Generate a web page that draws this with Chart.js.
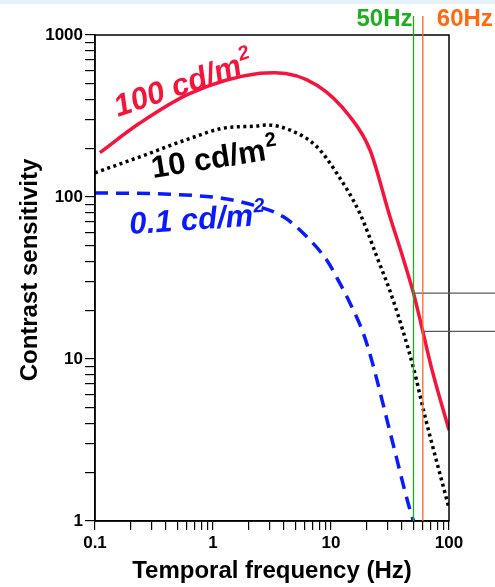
<!DOCTYPE html>
<html lang="en">
<head>
    <meta charset="UTF-8">
    <title>Contrast sensitivity</title>
    <script src="https://cdn.jsdelivr.net/npm/chart.js"></script>
    <style>
        body {
            margin: 0;
            background: #ffffff;
            font-family: 'Liberation Sans', Arial, sans-serif;
        }
        canvas {
            display: block;
        }
    </style>
</head>
<body>
    <canvas id="csfChart" width="495" height="587"></canvas>

    <script>
        // frequency (Hz) / sensitivity, one pair of arrays per curve
        const redFreq  = [0.11, 0.24, 0.64, 2.5, 3.35, 7.6, 14.5, 21.4, 31.6, 40, 50, 60, 72, 100];
        const redSens  = [188, 286, 436, 580, 585, 490, 313, 195, 75.5, 44, 25.5, 14.8, 8.5, 3.65];

        const blackFreq = [0.1, 0.24, 0.64, 1.22, 2.34, 2.85, 4.5, 7.6, 11.2, 17.6, 24.4, 33.7, 50, 62.7, 100];
        const blackSens = [141, 177, 230, 266, 274, 278, 259, 204, 140, 79, 43, 23, 8.8, 4.4, 1.2];

        const blueFreq = [0.1, 0.43, 1.22, 2.2, 3.95, 5.82, 9.19, 11.9, 14.5, 18.8, 22.1, 32.1, 46.7, 50];
        const blueSens = [106, 104, 98, 89, 75.5, 59.7, 40.8, 29.3, 22.1, 14.4, 9.86, 3.4, 1.17, 1.0];

        const seriesNames = ['100 cd/m', '10 cd/m', '0.1 cd/m'];

        // mains frequency markers and the sensitivity of the 100 cd/m2 curve there
        const markFreq  = [50, 60];
        const markSens  = [25.5, 14.8];
        const markNames = ['50Hz', '60Hz'];

        const xTickLabels = ['0.1', '1', '10', '100'];
        const yTickLabels = ['1', '10', '100', '1000'];

        const xTitle = 'Temporal frequency (Hz)';
        const yTitle = 'Contrast sensitivity';

        const RED = '#f5143c';
        const BLUE = '#0a1aff';
        const GREEN = '#1fae1f';
        const ORANGE = '#ff6a10';
        const FONT = '"Liberation Sans", Arial, sans-serif';

        function toPoints(xs, ys) {
            return xs.map((x, i) => ({ x: x, y: ys[i] }));
        }

        // 1..9 per decade, labels only on the powers of ten
        function logTicks(labels) {
            const majors = labels.map(Number);
            const out = [];
            for (let d = 0; d < majors.length - 1; d++) {
                for (let m = 1; m <= 9; m++) {
                    out.push({ value: +(majors[d] * m).toPrecision(6) });
                }
            }
            out.push({ value: majors[majors.length - 1] });
            return out;
        }

        function tickLabel(labels) {
            return function (value) {
                const i = labels.map(Number).indexOf(+value);
                return i >= 0 ? labels[i] : '';
            };
        }

        const extras = {
            id: 'extras',
            beforeDraw(chart) {
                const ctx = chart.ctx;
                ctx.save();
                ctx.fillStyle = '#e6f2fa';
                ctx.fillRect(0, 0, chart.width, 4);
                ctx.restore();
            },
            afterDraw(chart) {
                const ctx = chart.ctx;
                const area = chart.chartArea;
                const xs = chart.scales.x;
                const ys = chart.scales.y;
                ctx.save();

                // frame
                ctx.strokeStyle = '#000';
                ctx.lineWidth = 1.5;
                ctx.strokeRect(area.left, area.top, area.right - area.left, area.bottom - area.top);

                // 50 / 60 Hz markers
                const colors = [GREEN, ORANGE];
                markFreq.forEach((f, i) => {
                    const px = xs.getPixelForValue(f);
                    const py = ys.getPixelForValue(markSens[i]);
                    ctx.strokeStyle = '#5a5a5a';
                    ctx.lineWidth = 1.3;
                    ctx.beginPath();
                    ctx.moveTo(px, py);
                    ctx.lineTo(chart.width, py);
                    ctx.stroke();

                    ctx.strokeStyle = colors[i];
                    ctx.lineWidth = 1.3;
                    ctx.beginPath();
                    ctx.moveTo(px, area.top - 19);
                    ctx.lineTo(px, area.bottom);
                    ctx.stroke();

                    ctx.fillStyle = colors[i];
                    ctx.font = 'bold 24px ' + FONT;
                    ctx.textBaseline = 'alphabetic';
                    if (i === 0) {
                        ctx.textAlign = 'right';
                        ctx.fillText(markNames[i], px - 1, 26);
                    } else {
                        ctx.textAlign = 'left';
                        ctx.fillText(markNames[i], px + 14, 26);
                    }
                });

                // curve labels
                function curveLabel(text, f, s, angle, size, color, italic) {
                    const x = xs.getPixelForValue(f);
                    const y = ys.getPixelForValue(s);
                    const style = (italic ? 'italic ' : '') + 'bold ';
                    ctx.save();
                    ctx.translate(x, y);
                    ctx.rotate(angle * Math.PI / 180);
                    ctx.fillStyle = color;
                    ctx.textAlign = 'left';
                    ctx.textBaseline = 'alphabetic';
                    ctx.font = style + size + 'px ' + FONT;
                    ctx.fillText(text, 0, 0);
                    const w = ctx.measureText(text).width;
                    ctx.font = style + Math.round(size * 0.66) + 'px ' + FONT;
                    ctx.fillText('2', w + 1, -size * 0.42);
                    ctx.restore();
                }
                curveLabel(seriesNames[0], 0.157, 312, -19, 31, RED, true);
                curveLabel(seriesNames[1], 0.31, 131, -9, 31, '#000', false);
                curveLabel(seriesNames[2], 0.198, 59, -4, 31, BLUE, true);

                // y title
                ctx.save();
                ctx.translate(30, 270);
                ctx.rotate(-Math.PI / 2);
                ctx.fillStyle = '#000';
                ctx.font = 'bold 24px ' + FONT;
                ctx.textAlign = 'center';
                ctx.textBaseline = 'middle';
                ctx.fillText(yTitle, 0, 0);
                ctx.restore();

                ctx.restore();
            }
        };

        new Chart(document.getElementById('csfChart'), {
            type: 'line',
            data: {
                datasets: [
                    {
                        label: seriesNames[0],
                        data: toPoints(redFreq, redSens),
                        borderColor: RED,
                        borderWidth: 3.5,
                        pointRadius: 0,
                        cubicInterpolationMode: 'monotone',
                        fill: false
                    },
                    {
                        label: seriesNames[1],
                        data: toPoints(blackFreq, blackSens),
                        borderColor: '#000',
                        borderWidth: 3.5,
                        borderDash: [3, 3.5],
                        pointRadius: 0,
                        cubicInterpolationMode: 'monotone',
                        fill: false
                    },
                    {
                        label: seriesNames[2],
                        data: toPoints(blueFreq, blueSens),
                        borderColor: BLUE,
                        borderWidth: 3.5,
                        borderDash: [13, 8],
                        pointRadius: 0,
                        cubicInterpolationMode: 'monotone',
                        fill: false
                    }
                ]
            },
            options: {
                responsive: false,
                animation: false,
                devicePixelRatio: 1,
                layout: {
                    padding: { top: 35, right: 46, left: 0, bottom: 0 }
                },
                plugins: {
                    legend: { display: false },
                    tooltip: { enabled: false }
                },
                scales: {
                    x: {
                        type: 'logarithmic',
                        min: 0.1,
                        max: 100,
                        afterBuildTicks: (s) => { s.ticks = logTicks(xTickLabels); },
                        afterFit: (s) => { s.height = 66; },
                        ticks: {
                            autoSkip: false,
                            maxRotation: 0,
                            padding: 3,
                            color: '#000',
                            font: { family: FONT, size: 17, weight: 'bold' },
                            callback: tickLabel(xTickLabels)
                        },
                        grid: {
                            drawOnChartArea: false,
                            drawTicks: true,
                            tickLength: 9,
                            color: '#000',
                            lineWidth: 1.2
                        },
                        border: { display: true, color: '#000', width: 1.5 },
                        title: {
                            display: true,
                            text: xTitle,
                            color: '#000',
                            font: { family: FONT, size: 24, weight: 'bold' },
                            padding: { top: 0, bottom: 1 }
                        }
                    },
                    y: {
                        type: 'logarithmic',
                        min: 1,
                        max: 1000,
                        afterBuildTicks: (s) => { s.ticks = logTicks(yTickLabels); },
                        afterFit: (s) => { s.width = 95; },
                        ticks: {
                            autoSkip: false,
                            padding: 2,
                            color: '#000',
                            font: { family: FONT, size: 17, weight: 'bold' },
                            callback: tickLabel(yTickLabels)
                        },
                        grid: {
                            drawOnChartArea: false,
                            drawTicks: true,
                            tickLength: 10,
                            color: '#000',
                            lineWidth: 1.2
                        },
                        border: { display: true, color: '#000', width: 1.5 }
                    }
                }
            },
            plugins: [extras]
        });
    </script>
</body>
</html>
